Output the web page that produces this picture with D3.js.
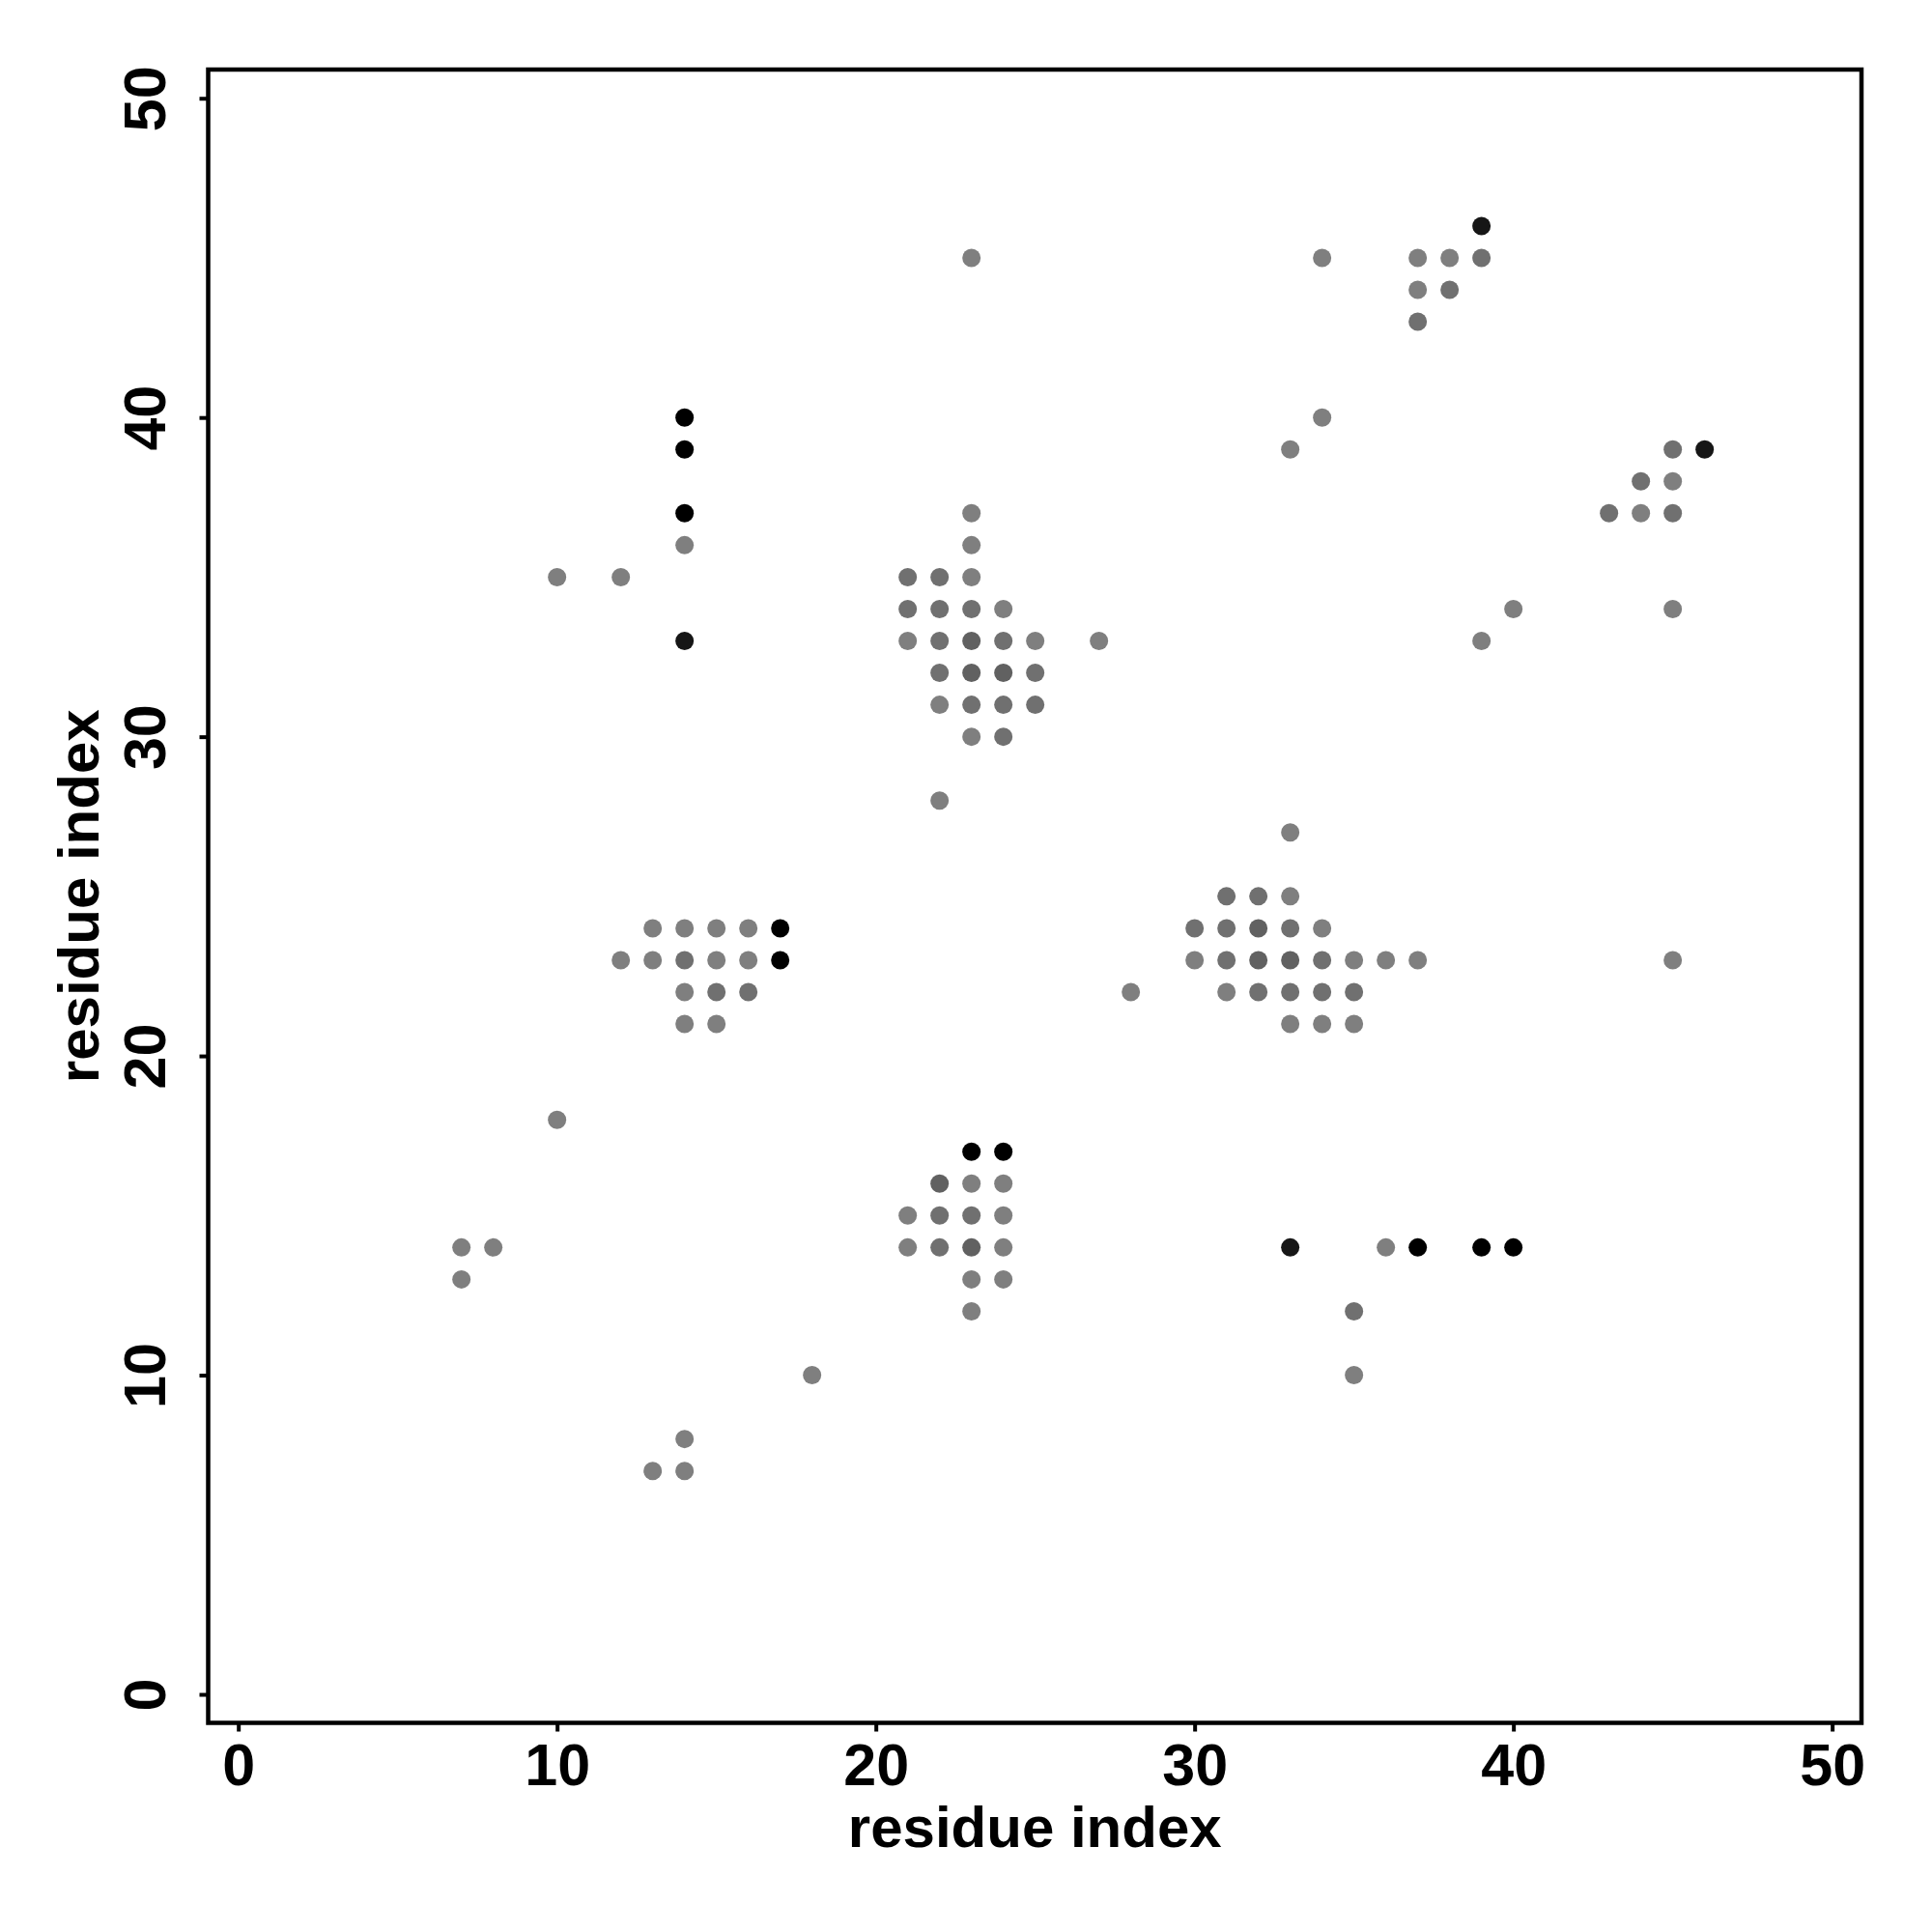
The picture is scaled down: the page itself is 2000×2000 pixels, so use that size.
<!DOCTYPE html>
<html>
<head>
<meta charset="utf-8">
<script src="https://cdn.jsdelivr.net/npm/d3@7"></script>
<style>
  html, body { margin: 0; padding: 0; background: #fff; }
  svg { display: block; }
</style>
</head>
<body>
<svg id="chart" width="2000" height="2000"></svg>
<script>
// ---- data ----
// gray contact points: x residue, y residue, frequency level (1..3)
const grayX = [23,34,37,38,39, 37,38, 37, 34, 33,45, 44,45, 23,43,44,45, 14,23,
  10,12,21,22,23, 21,22,23,24,40,45, 21,22,23,24,25,27,39, 22,23,24,25, 22,23,24,25,
  23,24, 22, 33, 31,32,33,
  13,14,15,16,30,31,32,33,34,
  12,13,14,15,16,30,31,32,33,34,35,36,37,45,
  14,15,16,28,31,32,33,34,35,
  14,15,33,34,35, 10,
  22,23,24, 21,22,23,24, 7,8,21,22,23,24,36, 7,23,24, 23,35, 18,35, 14, 13,14];
const grayY = [45,45,45,45,45, 44,44, 43, 40, 39,39, 38,38, 37,37,37,37, 36,36,
  35,35,35,35,35, 34,34,34,34,34,34, 33,33,33,33,33,33,33, 32,32,32,32, 31,31,31,31,
  30,30, 28, 27, 25,25,25,
  24,24,24,24,24,24,24,24,24,
  23,23,23,23,23,23,23,23,23,23,23,23,23,23,
  22,22,22,22,22,22,22,22,22,
  21,21,21,21,21, 18,
  16,16,16, 15,15,15,15, 14,14,14,14,14,14,14, 13,13,13, 12,12, 10,10, 8, 7,7];
const grayLevel = [1,1,1,1,2, 1,2, 2, 1, 1,2, 2,1, 1,2,1,2, 1,1,
  1,1,2,2,1, 2,2,2,1,1,1, 1,2,3,2,1,1,1, 2,3,3,2, 1,2,2,2,
  1,2, 1, 1, 2,2,1,
  1,1,1,1,2,2,3,2,1,
  1,1,2,1,1,1,2,3,3,2,1,1,1,1,
  1,2,2,1,1,2,2,2,2,
  1,1,1,1,1, 1,
  3,1,1, 1,2,2,1, 1,1,1,2,3,1,1, 1,1,1, 1,2, 1,1, 1, 1,1];

// black contact points
const blackX = [39,14,14,14,14,46,17,17,23,24,33,37,39,40];
const blackY = [46,40,39,37,33,39,24,23,17,17,14,14,14,14];
const blackLevel = [2,1,1,1,2,2,1,1,1,1,2,1,1,1];

const tickValues = [0,10,20,30,40,50];
const xTitle = "residue index";
const yTitle = "residue index";

// ---- layout ----
const svg = d3.select("#chart");
const font = "'Liberation Sans', Arial, Helvetica, sans-serif";
const x = d3.scaleLinear().domain([-0.945, 50.92]).range([215.5, 1927]);
const y = d3.scaleLinear().domain([-0.893, 50.9]).range([1783.5, 72]);

const grayColor = d3.scaleOrdinal().domain([1,2,3]).range(["#7f7f7f","#707070","#616161"]);
const blackColor = d3.scaleOrdinal().domain([1,2]).range(["#000000","#161616"]);

const grayPts = grayX.map((d,i) => ({x:d, y:grayY[i], l:grayLevel[i]}));
const blackPts = blackX.map((d,i) => ({x:d, y:blackY[i], l:blackLevel[i]}));

const r = 9.5;
svg.append("g").selectAll("circle").data(grayPts).join("circle")
  .attr("cx", d => x(d.x)).attr("cy", d => y(d.y)).attr("r", r)
  .attr("fill", d => grayColor(d.l));
svg.append("g").selectAll("circle").data(blackPts).join("circle")
  .attr("cx", d => x(d.x)).attr("cy", d => y(d.y)).attr("r", r)
  .attr("fill", d => blackColor(d.l));

// frame
const [x0, x1] = x.range();
const [y0, y1] = y.range();
svg.append("rect")
  .attr("x", x0).attr("y", y1).attr("width", x1 - x0).attr("height", y0 - y1)
  .attr("fill", "none").attr("stroke", "#000").attr("stroke-width", 4.5);

// x axis
const xa = svg.append("g").attr("transform", `translate(0,${y0})`)
  .call(d3.axisBottom(x).tickValues(tickValues).tickSize(9).tickSizeOuter(0).tickPadding(12));
xa.select(".domain").remove();
xa.selectAll(".tick line").attr("stroke-width", 4);
xa.selectAll(".tick text").attr("font-family", font).attr("font-weight", "bold")
  .attr("font-size", 61).attr("fill", "#000").attr("dy", "0.71em");

// y axis
const ya = svg.append("g").attr("transform", `translate(${x0},0)`)
  .call(d3.axisLeft(y).tickValues(tickValues).tickSize(9).tickSizeOuter(0));
ya.select(".domain").remove();
ya.selectAll(".tick line").attr("stroke-width", 4);
ya.selectAll(".tick text")
  .attr("font-family", font).attr("font-weight", "bold").attr("font-size", 61)
  .attr("fill", "#000").attr("text-anchor", "middle")
  .attr("x", null).attr("dy", null)
  .attr("transform", "translate(" + (171 - x0) + ",0) rotate(-90)");

// titles
svg.append("text").text(xTitle)
  .attr("x", (x0 + x1) / 2).attr("y", 1912)
  .attr("text-anchor", "middle").attr("font-family", font)
  .attr("font-weight", "bold").attr("font-size", 60).attr("fill", "#000");
svg.append("text").text(yTitle)
  .attr("transform", `translate(102,${(y0 + y1) / 2}) rotate(-90)`)
  .attr("text-anchor", "middle").attr("font-family", font)
  .attr("font-weight", "bold").attr("font-size", 60).attr("fill", "#000");
</script>
</body>
</html>
